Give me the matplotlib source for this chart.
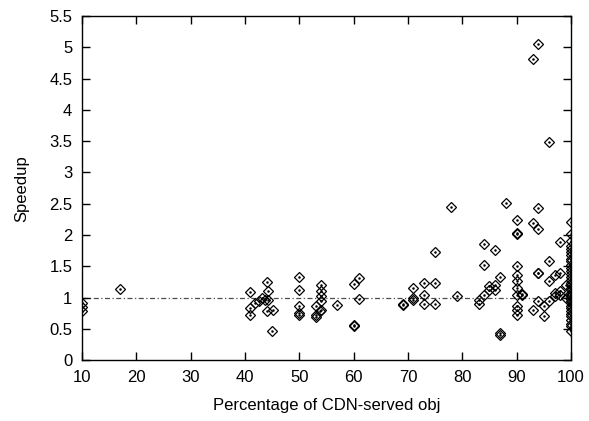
import matplotlib
matplotlib.use('Agg')
import matplotlib.pyplot as plt

plt.rcParams['font.family'] = ['Liberation Sans', 'DejaVu Sans']

# Percentage of CDN-served objects per page, and the measured speedup
pct = [10, 10, 10, 17,
       40.9, 40.9, 40.9, 41.9, 42.5, 43.1, 43.7, 44.0, 44.0, 44.2, 44.3, 45.1, 45.0,
       50, 50, 50, 50, 50,
       53, 53, 53, 53.8, 54, 54, 54, 54, 54, 57,
       60, 60, 60, 61, 61,
       69, 69, 71, 71, 71, 73, 73, 73, 75, 75, 75,
       78, 79, 83, 83, 84, 84, 84, 85, 85, 86, 86, 86, 87, 87, 87, 88,
       90, 90, 90, 90, 90, 90, 90, 90, 90, 90, 90, 91, 91,
       93, 93, 93, 94, 94, 94, 94, 94, 94, 95, 95,
       96, 96, 96, 96, 97, 97, 97, 98, 98, 98, 98, 99, 99]
speedup = [0.92, 0.85, 0.79, 1.14,
           1.09, 0.83, 0.73, 0.91, 0.94, 0.99, 0.96, 1.25, 0.78, 1.10, 0.97, 0.80, 0.46,
           1.33, 1.13, 0.86, 0.76, 0.72,
           0.87, 0.72, 0.69, 0.78, 1.20, 1.11, 1.02, 0.94, 0.80, 0.88,
           1.22, 0.55, 0.57, 1.31, 0.98,
           0.88, 0.90, 1.15, 0.97, 1.00, 1.23, 1.04, 0.90, 1.24, 0.90, 1.73,
           2.45, 1.02, 0.90, 0.96, 1.85, 1.53, 1.04, 1.19, 1.12, 1.12, 1.20, 1.76, 1.33, 0.43, 0.41, 2.52,
           2.24, 2.02, 2.03, 1.51, 1.36, 1.26, 1.15, 1.04, 0.86, 0.81, 0.72, 1.04, 1.06,
           2.20, 0.80, 4.82, 5.06, 2.44, 2.10, 1.39, 1.40, 0.94, 0.70, 0.86,
           3.48, 1.59, 1.26, 0.94, 1.36, 1.02, 1.07, 1.89, 1.39, 1.04, 1.10, 1.00, 1.20]

# pages fully served by the CDN
full_cdn = [2.21, 2.02, 1.90, 1.82, 1.78, 1.73, 1.68, 1.62, 1.58, 1.52, 1.47, 1.42,
            1.38, 1.33, 1.28, 1.24, 1.20, 1.16, 1.12, 1.08, 1.05, 1.02, 0.98, 0.95,
            0.91, 0.87, 0.83, 0.78, 0.74, 0.70, 0.64, 0.58, 0.54, 0.47]

xs = pct + [100] * len(full_cdn)
ys = speedup + full_cdn

yticks = [0, 0.5, 1, 1.5, 2, 2.5, 3, 3.5, 4, 4.5, 5, 5.5]
ytick_labels = ['0', '0.5', '1', '1.5', '2', '2.5', '3', '3.5', '4', '4.5', '5', '5.5']
xticks = [10, 20, 30, 40, 50, 60, 70, 80, 90, 100]

fig = plt.figure(figsize=(5.89, 4.21), dpi=100)
ax = fig.add_axes([0.1392, 0.1442, 0.8302, 0.8178])

ax.plot([10, 100], [1, 1], color='0.3', lw=0.9, linestyle=(0, (4, 2, 1, 2)), zorder=1)
ax.plot(xs, ys, linestyle='none', marker='D', ms=4.6, mfc='none', mec='black', mew=0.9, zorder=2)
ax.plot(xs, ys, linestyle='none', marker='o', ms=0.8, color='black', zorder=3)

ax.set_xlim(10, 100)
ax.set_ylim(0, 5.5)
ax.set_xticks(xticks)
ax.set_yticks(yticks)
ax.set_yticklabels(ytick_labels)
ax.tick_params(direction='in', top=True, right=True, length=6, width=1, labelsize=12, pad=7)
for s in ax.spines.values():
    s.set_linewidth(1)

ax.set_xlabel('Percentage of CDN-served obj', fontsize=12, labelpad=9)
ax.set_ylabel('Speedup', fontsize=12, labelpad=14)

fig.savefig('out.png', dpi=100)
